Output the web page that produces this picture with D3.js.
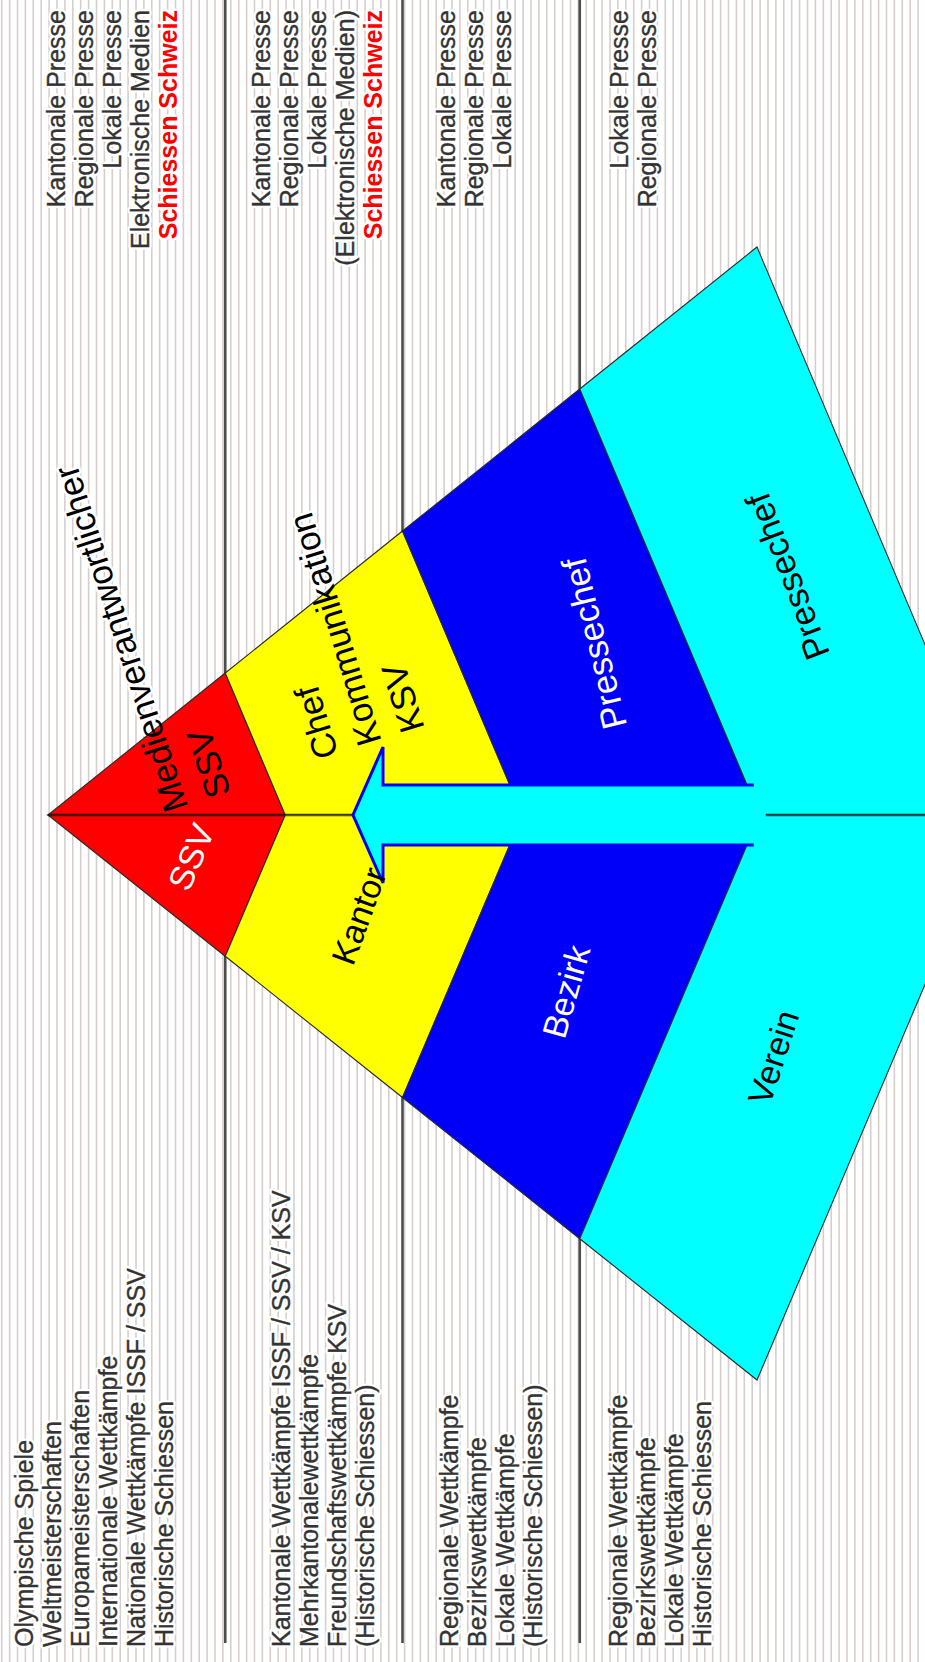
<!DOCTYPE html>
<html>
<head>
<meta charset="utf-8">
<script src="https://cdn.jsdelivr.net/npm/d3@7"></script>
<style>
  body { margin: 0; background: #fff; }
  svg { display: block; }
  text { font-family: "Liberation Sans", Arial, sans-serif; }
</style>
</head>
<body>
<div id="chart"></div>
<script>
// Pyramid: each band ends at this fraction of the pyramid depth
var bandEnds = [0.25, 0.5, 0.75, 1];
// labels on the lower face (left face of the upright pyramid)
var faceLabelsLow = ["SSV", "Kantor", "Bezirk", "Verein"];
// labels on the upper face, one entry per line
var faceLabelsHigh = [["Medienverantwortlicher", "SSV"], ["Chef", "Kommunikation", "KSV"], ["Pressechef"], ["Pressechef"]];

// competitions for each level (read bottom to top)
var competitions = [
  ["Olympische Spiele", "Weltmeisterschaften", "Europameisterschaften", "Internationale Wettkämpfe", "Nationale Wettkämpfe ISSF / SSV", "Historische Schiessen"],
  ["Kantonale Wettkämpfe ISSF / SSV / KSV", "Mehrkantonalewettkämpfe", "Freundschaftswettkämpfe KSV", "(Historische Schiessen)"],
  ["Regionale Wettkämpfe", "Bezirkswettkämpfe", "Lokale Wettkämpfe", "(Historische Schiessen)"],
  ["Regionale Wettkämpfe", "Bezirkswettkämpfe", "Lokale Wettkämpfe", "Historische Schiessen"]
];
// media for each level
var media = [
  ["Kantonale Presse", "Regionale Presse", "Lokale Presse", "Elektronische Medien", "Schiessen Schweiz"],
  ["Kantonale Presse", "Regionale Presse", "Lokale Presse", "(Elektronische Medien)", "Schiessen Schweiz"],
  ["Kantonale Presse", "Regionale Presse", "Lokale Presse"],
  ["Lokale Presse", "Regionale Presse"]
];
var highlighted = "Schiessen Schweiz";

// styles
var bandColors = ["#ff0000", "#ffff00", "#0000f8", "#00ffff"];
var lowTextColors = ["#fff", "#000", "#fff", "#000"];
var highTextColors = ["#000", "#000", "#fff", "#000"];
var lowAngles = [-67, -70, -74, -72];
var highAngles = [-108, -107, -104, -111];
var lowShift = [[5, -5], [0, -5], [0, 0], [0, -5]];
var highShift = [[0, 0], [0, 0], [28, 6], [14, 10]];

var width = 925, height = 1662;
var axisY = 815;
var lineStep = 28;
var compFirst = [33, 290, 458, 627];
var mediaFirst = [65, 270, 455, 628];

var svg = d3.select("#chart").append("svg")
  .attr("width", width)
  .attr("height", height);

// scales of the pyramid
var outerX = d3.scaleLinear().domain([0, 1]).range([48, 757]);
var frontX = d3.scaleLinear().domain([0, 1]).range([48, 997]);
var spreadHigh = d3.scaleLinear().domain([0, 1]).range([0, 568]);
var spreadLow = d3.scaleLinear().domain([0, 1]).range([0, 565]);

// striped background
svg.append("rect").attr("width", width).attr("height", height).attr("fill", "#fff");
svg.append("g").selectAll("line")
  .data(d3.range(1.7, width, 7.9))
  .enter().append("line")
  .attr("x1", d => d).attr("x2", d => d)
  .attr("y1", 0).attr("y2", height)
  .attr("stroke", "#d6cecb")
  .attr("stroke-width", 1.6);

// level dividers
svg.append("g").selectAll("line")
  .data(bandEnds.slice(0, 3))
  .enter().append("line")
  .attr("x1", d => outerX(d)).attr("x2", d => outerX(d))
  .attr("y1", 0).attr("y2", 1643)
  .attr("stroke", "#4d4d4d")
  .attr("stroke-width", 2.6);

function sideText(g, txt, x, y, anchor) {
  var t = g.append("text")
    .attr("transform", `translate(${x},${y}) rotate(-90)`)
    .attr("text-anchor", anchor)
    .attr("font-size", 25)
    .text(txt);
  if (txt == highlighted) {
    t.attr("fill", "#ff0000").attr("font-weight", "bold");
  } else {
    t.attr("fill", "#333").attr("stroke", "#333").attr("stroke-width", 0.35);
  }
  return t;
}

var haloLayer = svg.append("g");
var textLayer = svg.append("g");

competitions.forEach(function (list, g) {
  list.forEach(function (txt, i) {
    sideText(haloLayer, txt, compFirst[g] + i * lineStep, 1647, "start");
    sideText(textLayer, txt, compFirst[g] + i * lineStep, 1647, "start");
  });
});
media.forEach(function (list, g) {
  list.forEach(function (txt, i) {
    sideText(haloLayer, txt, mediaFirst[g] + i * lineStep, 10, "end");
    sideText(textLayer, txt, mediaFirst[g] + i * lineStep, 10, "end");
  });
});
haloLayer.selectAll("text")
  .attr("fill", "#fff").attr("stroke", "#fff")
  .attr("stroke-width", 5).attr("stroke-linejoin", "round");

// band polygons
var bands = bandEnds.map(function (t1, i) {
  var t0 = i == 0 ? 0 : bandEnds[i - 1];
  var high = [[frontX(t0), axisY], [frontX(t1), axisY], [outerX(t1), axisY - spreadHigh(t1)]];
  var low = [[frontX(t0), axisY], [frontX(t1), axisY], [outerX(t1), axisY + spreadLow(t1)]];
  if (t0 > 0) {
    high.push([outerX(t0), axisY - spreadHigh(t0)]);
    low.push([outerX(t0), axisY + spreadLow(t0)]);
  }
  return { i: i, high: high, low: low };
});

function centroid(pts) {
  return [d3.mean(pts, p => p[0]), d3.mean(pts, p => p[1])];
}

var labelHalo = svg.append("g");
var pyr = svg.append("g");
var labelFront = svg.append("g");

bands.forEach(function (b) {
  pyr.append("polygon")
    .attr("points", b.high.join(" "))
    .attr("fill", bandColors[b.i])
    .attr("stroke", "#2a2a2a")
    .attr("stroke-width", 1.1);
  pyr.append("polygon")
    .attr("points", b.low.join(" "))
    .attr("fill", bandColors[b.i])
    .attr("stroke", "#2a2a2a")
    .attr("stroke-width", 1.1);
});

// front ridge
pyr.append("line")
  .attr("x1", frontX(0)).attr("x2", width)
  .attr("y1", axisY).attr("y2", axisY)
  .attr("stroke", "#000").attr("stroke-opacity", 0.36)
  .attr("stroke-width", 3);

// arrow pointing to the top
var tipX = 353, headX = 383, tailX = frontX(0.75) + 3, headH = 68, shaftH = 30;
var arrowPts = [[tailX, axisY - shaftH], [headX, axisY - shaftH], [headX, axisY - headH], [tipX, axisY],
  [headX, axisY + headH], [headX, axisY + shaftH], [tailX, axisY + shaftH]];
pyr.append("path")
  .attr("d", d3.line()(arrowPts) + "Z")
  .attr("fill", "#00ffff");
pyr.append("path")
  .attr("d", d3.line()(arrowPts.slice(0, 7)))
  .attr("fill", "none")
  .attr("stroke", "#0000ff")
  .attr("stroke-width", 3)
  .attr("stroke-linejoin", "miter");
// soften the arrow edge where it meets the cyan band
pyr.append("rect")
  .attr("x", frontX(0.75) - 6).attr("y", axisY - shaftH - 2)
  .attr("width", 12).attr("height", 2 * shaftH + 4)
  .attr("fill", "#00ffff");

// labels on the faces
bands.forEach(function (b) {
  var cl = centroid(b.low);
  labelFront.append("text")
    .attr("transform", `translate(${cl[0] + lowShift[b.i][0]},${cl[1] + lowShift[b.i][1]}) rotate(${lowAngles[b.i]})`)
    .attr("text-anchor", "middle")
    .attr("dy", "0.35em")
    .attr("font-size", 34)
    .attr("fill", lowTextColors[b.i])
    .text(faceLabelsLow[b.i]);

  var ch = centroid(b.high);
  var lines = faceLabelsHigh[b.i];
  [labelHalo, labelFront].forEach(function (layer, k) {
    var g = layer.append("g")
      .attr("transform", `translate(${ch[0] + highShift[b.i][0]},${ch[1] + highShift[b.i][1]}) rotate(${highAngles[b.i]})`);
    lines.forEach(function (txt, j) {
      var t = g.append("text")
        .attr("x", lines.length > 1 ? -38 : 0)
        .attr("y", (j - (lines.length - 1) / 2) * 45)
        .attr("dy", "0.35em")
        .attr("text-anchor", lines.length > 1 ? "start" : "middle")
        .attr("font-size", 35)
        .text(txt);
      if (k == 0) {
        t.attr("fill", "#fff").attr("stroke", "#fff").attr("stroke-width", 5).attr("stroke-linejoin", "round");
      } else {
        t.attr("fill", highTextColors[b.i]);
      }
    });
  });
});
</script>
</body>
</html>
